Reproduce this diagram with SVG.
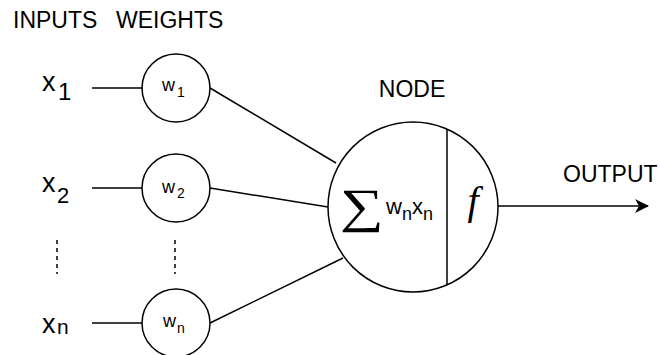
<svg xmlns="http://www.w3.org/2000/svg" width="660" height="355" viewBox="0 0 660 355">
<defs>
<style>
.lbl{font-family:"Liberation Sans",Arial,sans-serif;font-size:23px;fill:#000}
.xv{font-family:"Liberation Sans",Arial,sans-serif;font-size:27px;fill:#000}
.wv{font-family:"Liberation Sans",Arial,sans-serif;font-size:18px;fill:#000}
.ws{font-family:"Liberation Sans",Arial,sans-serif;font-size:14px;fill:#000}
.sh{fill:#fff;stroke:#000;stroke-width:1.5}
.ln{fill:none;stroke:#000;stroke-width:1.5}
.dash{fill:none;stroke:#000;stroke-width:1.5;stroke-dasharray:4 4}
</style>
<marker id="arr" viewBox="0 0 14 14" refX="13" refY="7" markerWidth="14" markerHeight="14" markerUnits="userSpaceOnUse" orient="auto">
<path d="M0,0 L14,7 L0,14 L4,7 Z" fill="#000"/>
</marker>
</defs>
<rect width="660" height="355" fill="#fff"/>
<g id="headers">
<text class="lbl" x="13" y="28">INPUTS</text>
<text class="lbl" x="116" y="28">WEIGHTS</text>
<text class="lbl" x="412" y="97" text-anchor="middle">NODE</text>
<text class="lbl" x="563" y="182">OUTPUT</text>
</g>
<g id="connectors">
<line class="ln" x1="92" y1="88" x2="142" y2="88"/>
<line class="ln" x1="92" y1="188" x2="142" y2="188"/>
<line class="ln" x1="92" y1="323" x2="142" y2="323"/>
<line class="ln" x1="210" y1="88" x2="336" y2="163"/>
<line class="ln" x1="210" y1="188" x2="328" y2="207"/>
<line class="ln" x1="210" y1="323" x2="343" y2="258"/>
<line class="ln" x1="498" y1="206" x2="648" y2="206" marker-end="url(#arr)"/>
<line class="dash" x1="57" y1="240" x2="57" y2="274"/>
<line class="dash" x1="175" y1="240" x2="175" y2="274"/>
</g>
<g id="x1"><text class="xv" x="42" y="91">x<tspan font-size="24" x="58" y="100">1</tspan></text></g>
<g id="x2"><text class="xv" x="42" y="192">x<tspan font-size="22" x="57" y="203">2</tspan></text></g>
<g id="xn"><text class="xv" x="42" y="333">x<tspan font-size="21" x="57" y="334">n</tspan></text></g>
<g id="w1"><circle class="sh" cx="176" cy="88" r="34"/><text class="wv" x="162" y="91">w<tspan class="ws" x="177" y="97">1</tspan></text></g>
<g id="w2"><circle class="sh" cx="176" cy="188" r="34"/><text class="wv" x="162" y="193">w<tspan class="ws" x="177" y="198">2</tspan></text></g>
<g id="wn"><circle class="sh" cx="176" cy="323" r="34"/><text class="wv" x="163" y="327">w<tspan class="ws" x="177" y="333">n</tspan></text></g>
<g id="node">
<circle class="sh" cx="413" cy="207" r="85"/>
<line class="ln" x1="447" y1="129" x2="447" y2="285"/>
<text transform="translate(340,222) scale(1.28,1)" x="0" y="0" font-family="'Liberation Serif','Times New Roman',serif" font-size="48">∑</text>
<text x="386" y="214" font-family="'Liberation Sans',Arial,sans-serif" font-size="22">w<tspan font-size="18" y="220">n</tspan><tspan y="214">x</tspan><tspan font-size="18" y="220">n</tspan></text>
<text x="473" y="214" text-anchor="middle" font-family="'Liberation Serif','Times New Roman',serif" font-size="40" font-style="italic">f</text>
</g>
</svg>
